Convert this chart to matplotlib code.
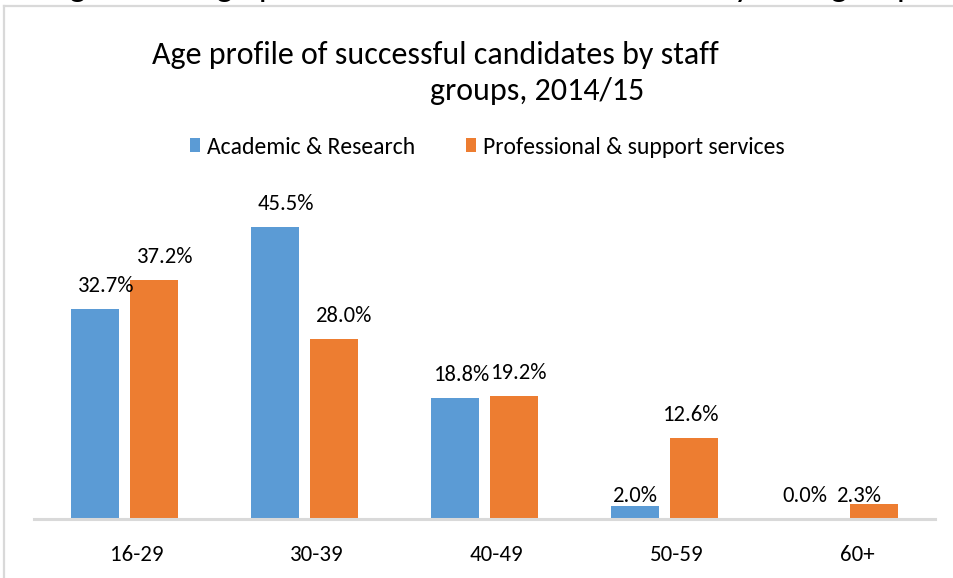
import matplotlib
matplotlib.use("Agg")
import matplotlib.pyplot as plt
from matplotlib.patches import Patch
from matplotlib.lines import Line2D
from matplotlib.transforms import ScaledTranslation

# Age bands and share of successful candidates (%) in each staff group
age_bands = ["16-29", "30-39", "40-49", "50-59", "60+"]
academic_research = [32.7, 45.5, 18.8, 2.0, 0.0]
professional_support = [37.2, 28.0, 19.2, 12.6, 2.3]
series_names = ["Academic & Research", "Professional & support services"]

BLUE = "#5B9BD5"
ORANGE = "#ED7D31"
GREY = "#D9D9D9"
FONT = ["Carlito", "DejaVu Sans"]

W, H = 954, 578
plt.rcParams["font.family"] = FONT

fig = plt.figure(figsize=(W / 100, H / 100), dpi=100)
fig.patch.set_facecolor("white")


def fx(px):
    return px / W


def fy(py):
    return 1 - py / H


# Caption of the page above the chart (runs off the top edge)
fig.text(fx(45), 1 + 4.5 / H,
         "Figure 10: Age profile of successful candidates by staff groups",
         fontsize=25.6, va="baseline", ha="left", color="black")

# Chart area border
fig.add_artist(Line2D([fx(4), fx(W + 5)], [fy(5.5), fy(5.5)], color=GREY, lw=1.6))
fig.add_artist(Line2D([fx(4), fx(4)], [fy(5.5), fy(H + 5)], color=GREY, lw=1.6))

# Title (wrapped over two lines)
fig.text(fx(152), fy(64), "Age profile of successful candidates by staff",
         fontsize=23, ha="left", va="baseline")
fig.text(fx(430), fy(100), "groups, 2014/15",
         fontsize=23, ha="left", va="baseline")

# Plot area
left_px, right_px, base_px, top_px = 34.5, 935.0, 519.0, 198.0
ax = fig.add_axes([fx(left_px), fy(base_px), fx(right_px - left_px),
                   (base_px - top_px) / H])
ax.set_xlim(-0.5, len(age_bands) - 0.5)
ax.set_ylim(0, 50)

slot_px = (right_px - left_px) / len(age_bands)
bar_w = 48 / slot_px
shift = 29.5 / slot_px
xs = list(range(len(age_bands)))

series = [academic_research, professional_support]
colors = [BLUE, ORANGE]
offsets = [-shift, shift]
PT = 72 / 100  # points per pixel

for vals, col, off, name in zip(series, colors, offsets, series_names):
    pos = [x + off for x in xs]
    ax.bar(pos, vals, width=bar_w, color=col, label=name, zorder=2)
    for p, v in zip(pos, vals):
        bar_px = left_px + (p + 0.5) * slot_px
        # labels drift right on the left of the chart and left on the right
        u = (bar_px - 485) / 390
        dx_px = 6 - 13 * u - 8 * u * u
        anchor = v if v >= 3 else 0
        ax.annotate(f"{v:.1f}%", xy=(p, anchor),
                    xytext=(dx_px * PT, 17 * PT), textcoords="offset points",
                    ha="center", va="baseline", fontsize=16.3, color="black")

for s in ("left", "right", "top"):
    ax.spines[s].set_visible(False)
ax.spines["bottom"].set_color(GREY)
ax.spines["bottom"].set_linewidth(2.2)
ax.spines["bottom"].set_zorder(3)
ax.set_yticks([])
ax.set_xticks(xs)
ax.set_xticklabels(age_bands, fontsize=16.5)
ax.tick_params(axis="x", length=0, pad=19)
nudge = ScaledTranslation(12 / 100, 0, fig.dpi_scale_trans)
for lab in ax.get_xticklabels():
    lab.set_transform(lab.get_transform() + nudge)
ax.patch.set_alpha(0)

handles = [Patch(facecolor=c, edgecolor="none") for c in colors]
fig.legend(handles, series_names, loc="center left",
           bbox_to_anchor=(fx(190), fy(147)), ncol=2, frameon=False,
           fontsize=17, handlelength=0.42, handleheight=0.5,
           handletextpad=0.3, columnspacing=2.15, borderpad=0,
           borderaxespad=0)

fig.savefig("out.png", dpi=100, facecolor="white")
